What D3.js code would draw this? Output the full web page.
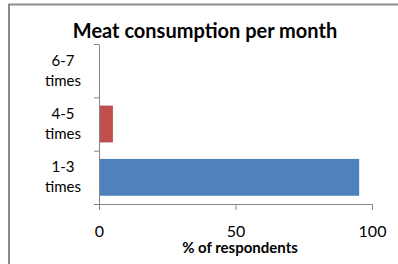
<!DOCTYPE html>
<html>
<head>
<meta charset="utf-8">
<script src="https://cdn.jsdelivr.net/npm/d3@7"></script>
<style>
  body { margin: 0; background: #fff; }
  svg { display: block; }
</style>
</head>
<body>
<script>
// chart data
var categories = ["1-3 times", "4-5 times", "6-7 times"];
var catLines = [["1-3", "times"], ["4-5", "times"], ["6-7", "times"]];
var values = [95.3, 5.1, 0];
var colors = ["#4F81BD", "#C0504D", "#9BBB59"];
var xTicks = [0, 50, 100];
var title = "Meat consumption per month";
var xTitle = "% of respondents";

var width = 398, height = 264;
var font = "Lato, 'Open Sans', sans-serif";

var svg = d3.select("body").append("svg")
    .attr("width", width)
    .attr("height", height);

svg.append("rect")
    .attr("width", width).attr("height", height)
    .attr("fill", "#fff");

// outer frame (runs off the right and bottom edges)
svg.append("rect")
    .attr("x", 9).attr("y", 4.5)
    .attr("width", 420).attr("height", 300)
    .attr("fill", "none")
    .attr("stroke", "#8a8a8a")
    .attr("stroke-width", 2);

// plot area (note: "top" is reserved on window, so use plot*)
var plotL = 99, plotR = 372, plotT = 44, plotB = 204;

var x = d3.scaleLinear().domain([0, 100]).range([plotL, plotR]);

// 6-7 on top, like Excel's reversed order
var y = d3.scaleBand()
    .domain(categories.slice().reverse())
    .range([plotT, plotB])
    .paddingInner(0.31)
    .paddingOuter(0.155);

// tick marks sit at category boundaries
var yb = d3.scaleLinear().domain([0, categories.length]).range([plotB, plotT]);

// bars
svg.selectAll(".bar")
  .data(categories)
  .enter()
  .append("rect")
    .attr("class", "bar")
    .attr("x", x(0))
    .attr("y", function(d) { return y(d); })
    .attr("width", function(d, i) { return x(values[i]) - x(0); })
    .attr("height", y.bandwidth())
    .attr("fill", function(d, i) { return colors[i]; });

// y axis
var yAxis = svg.append("g")
    .attr("transform", "translate(" + plotL + ",0)")
    .call(d3.axisLeft(yb).tickValues(d3.range(categories.length + 1)).tickFormat("").tickSize(5).tickSizeOuter(0));
yAxis.selectAll("path, line").attr("stroke", "#868686");

// x axis
var xAxis = svg.append("g")
    .attr("transform", "translate(0," + plotB + ")")
    .call(d3.axisBottom(x).tickValues(xTicks).tickSize(6).tickSizeOuter(0).tickPadding(16));
xAxis.selectAll("path, line").attr("stroke", "#868686");
xAxis.selectAll("text")
    .attr("font-family", font)
    .attr("font-size", 16)
    .attr("fill", "#000");

// category labels, two lines each
var lab = svg.selectAll(".cat")
  .data(categories)
  .enter()
  .append("text")
    .attr("class", "cat")
    .attr("text-anchor", "middle")
    .attr("font-family", font)
    .attr("font-size", 15)
    .attr("fill", "#000");
lab.append("tspan")
    .attr("x", 63)
    .attr("y", function(d) { return y(d) + y.bandwidth() / 2 - 5; })
    .text(function(d, i) { return catLines[i][0]; });
lab.append("tspan")
    .attr("x", 63)
    .attr("y", function(d) { return y(d) + y.bandwidth() / 2 + 15; })
    .text(function(d, i) { return catLines[i][1]; });

// title
svg.append("text")
    .attr("x", 205).attr("y", 38)
    .attr("text-anchor", "middle")
    .attr("font-family", font)
    .attr("font-weight", "bold")
    .attr("font-size", 20)
    .attr("fill", "#000")
    .text(title);

// x axis title
svg.append("text")
    .attr("x", 240).attr("y", 253)
    .attr("text-anchor", "middle")
    .attr("font-family", font)
    .attr("font-weight", "bold")
    .attr("font-size", 15)
    .attr("fill", "#000")
    .text(xTitle);
</script>
</body>
</html>
